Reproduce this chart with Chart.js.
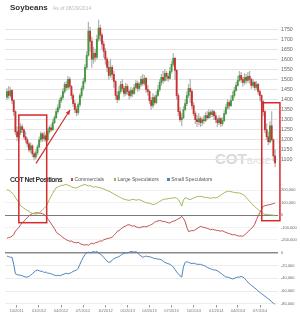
<!DOCTYPE html>
<html>
<head>
<meta charset="utf-8">
<script src="https://cdn.jsdelivr.net/npm/chart.js@4.4.1/dist/chart.umd.min.js"></script>
<style>
  html, body { margin: 0; padding: 0; background: #fff; }
  #lienzo { position: relative; width: 300px; height: 318px; overflow: hidden; font-family: "Liberation Sans", Arial, sans-serif; }
  #lienzo canvas { position: absolute; left: 0; }
  #titulo { position: absolute; left: 10px; top: 3px; line-height: 9px; font-size: 8px; font-weight: bold; color: #333; white-space: nowrap; }
  #titulo span { font-weight: normal; font-size: 5.1px; color: #bbb; margin-left: 5px; }
  #cabeceraCot { position: absolute; left: 10px; top: 173px; line-height: 8px; white-space: nowrap; }
  #cabeceraCot b { font-size: 7px; color: #333; letter-spacing: -0.55px; }
  .item { font-size: 5.1px; color: #555; vertical-align: 1px; }
  .cuadro { display: inline-block; width: 2.4px; height: 2.4px; margin-right: 1.5px; vertical-align: 0.5px; }
  #marcaAgua { position: absolute; left: 215px; top: 151px; line-height: 15px; font-size: 15px; font-weight: bold; color: #dadada; white-space: nowrap; }
  #marcaAgua span { font-size: 9px; font-weight: normal; color: #e0e0e0; }
  #marcas { pointer-events: none; top: 0; }
</style>
</head>
<body>
<div id="lienzo">
  <div id="marcaAgua">COT<span>BASE</span></div>
  <canvas id="precio" width="300" height="172" style="top:0px"></canvas>
  <canvas id="cot" width="300" height="68" style="top:180px"></canvas>
  <canvas id="pequenos" width="300" height="72" style="top:246px"></canvas>
  <div id="titulo">Soybeans<span>As of 08/29/2014</span></div>
  <div id="cabeceraCot"><b>COT Net Positions</b>
    <span class="item" style="margin-left:4px"><span class="cuadro" style="background:#c0504d"></span>Commercials</span>
    <span class="item" style="margin-left:5px"><span class="cuadro" style="background:#9bbb59"></span>Large Speculators</span>
    <span class="item" style="margin-left:4px"><span class="cuadro" style="background:#4f81bd"></span>Small Speculators</span>
  </div>
  <canvas id="marcas" width="300" height="318"></canvas>
</div>
<script>
// Velas semanales de soja (centavos/bushel), desde la semana del 22/08/2011
const apertura = [
  1410,1440,1420,1445,1395,1340,1240,1215,1235,1265,
  1250,1215,1200,1180,1150,1170,1130,1115,1135,1165,
  1200,1230,1205,1220,1200,1240,1260,1250,1285,1310,
  1340,1360,1395,1410,1440,1475,1460,1500,1465,1420,
  1380,1350,1335,1375,1420,1455,1490,1560,1620,1740,
  1690,1600,1630,1610,1700,1755,1720,1675,1640,1600,
  1560,1520,1560,1525,1490,1420,1400,1440,1475,1455,
  1430,1465,1440,1420,1445,1430,1460,1480,1455,1475,
  1500,1480,1505,1450,1440,1395,1370,1410,1385,1420,
  1450,1485,1510,1495,1530,1515,1505,1540,1575,1605,
  1545,1420,1340,1300,1310,1350,1380,1420,1455,1440,
  1370,1330,1300,1290,1305,1285,1300,1295,1320,1310,
  1335,1325,1340,1320,1300,1285,1305,1280,1295,1330,
  1360,1385,1370,1395,1420,1445,1470,1495,1520,1500,
  1485,1510,1495,1515,1500,1470,1485,1460,1475,1440,
  1420,1390,1340,1250,1215,1190,1270,1200,1120
];
const maximo = [
  1455,1465,1460,1450,1400,1345,1265,1250,1280,1275,
  1255,1240,1210,1190,1185,1175,1140,1150,1175,1215,
  1240,1235,1240,1230,1255,1270,1275,1300,1320,1355,
  1375,1405,1420,1455,1485,1490,1515,1510,1470,1430,
  1395,1365,1385,1430,1465,1505,1575,1640,1785,1760,
  1710,1660,1650,1720,1795,1770,1730,1690,1655,1610,
  1590,1600,1570,1540,1495,1440,1465,1490,1500,1465,
  1480,1475,1450,1460,1455,1475,1495,1490,1485,1515,
  1525,1520,1510,1470,1445,1410,1430,1420,1440,1470,
  1500,1525,1540,1550,1540,1530,1560,1590,1630,1610,
  1550,1430,1360,1330,1365,1400,1440,1475,1500,1450,
  1385,1340,1320,1330,1315,1310,1320,1335,1340,1350,
  1345,1350,1345,1335,1310,1320,1310,1310,1345,1375,
  1400,1395,1420,1440,1460,1485,1515,1540,1535,1510,
  1530,1525,1535,1540,1505,1500,1490,1490,1480,1450,
  1425,1395,1345,1280,1240,1290,1340,1205,1150
];
const minimo = [
  1400,1405,1410,1380,1320,1225,1195,1200,1225,1235,
  1205,1185,1165,1140,1135,1115,1100,1105,1125,1160,
  1190,1190,1195,1190,1195,1230,1240,1245,1280,1305,
  1330,1350,1385,1400,1430,1445,1450,1455,1405,1365,
  1335,1320,1325,1365,1410,1445,1480,1550,1615,1640,
  1560,1580,1590,1600,1690,1690,1650,1610,1575,1540,
  1500,1510,1500,1460,1400,1385,1395,1430,1440,1415,
  1420,1425,1400,1410,1415,1425,1450,1440,1445,1465,
  1470,1470,1435,1420,1380,1350,1360,1375,1380,1415,
  1440,1470,1480,1490,1495,1490,1500,1530,1565,1500,
  1400,1320,1290,1270,1305,1345,1370,1410,1385,1355,
  1320,1280,1265,1275,1265,1270,1280,1290,1300,1305,
  1310,1315,1300,1285,1265,1275,1265,1270,1290,1325,
  1350,1355,1365,1400,1410,1440,1465,1490,1485,1465,
  1475,1480,1485,1480,1455,1460,1445,1450,1425,1395,
  1370,1320,1235,1200,1175,1185,1195,1095,1065
];
const cierre = [
  1440,1420,1445,1395,1340,1240,1215,1235,1265,1250,
  1215,1200,1180,1150,1170,1130,1115,1135,1165,1200,
  1230,1205,1220,1200,1240,1260,1250,1285,1310,1340,
  1360,1395,1410,1440,1475,1460,1500,1465,1420,1380,
  1350,1335,1375,1420,1455,1490,1560,1620,1740,1690,
  1600,1630,1610,1700,1755,1720,1675,1640,1600,1560,
  1520,1560,1525,1490,1420,1400,1440,1475,1455,1430,
  1465,1440,1420,1445,1430,1460,1480,1455,1475,1500,
  1480,1505,1450,1440,1395,1370,1410,1385,1420,1450,
  1485,1510,1495,1530,1515,1505,1540,1575,1605,1545,
  1420,1340,1300,1310,1350,1380,1420,1455,1440,1370,
  1330,1300,1290,1305,1285,1300,1295,1320,1310,1335,
  1325,1340,1320,1300,1285,1305,1280,1295,1330,1360,
  1385,1370,1395,1420,1445,1470,1495,1520,1500,1485,
  1510,1495,1515,1500,1470,1485,1460,1475,1440,1420,
  1390,1340,1250,1215,1190,1270,1200,1120,1085
];

// Posiciones netas COT (miles de contratos)
const comerciales = [
  -187,-182,-178,-170,-158,-130,-115,-100,-78,-65,
  -50,-35,-20,-8,5,10,14,18,18,16,
  14,10,4,-8,-30,-48,-70,-88,-110,-135,
  -150,-158,-170,-182,-190,-200,-205,-212,-210,-218,
  -222,-225,-220,-230,-236,-240,-243,-238,-245,-233,
  -228,-232,-224,-222,-215,-208,-212,-200,-196,-190,
  -188,-184,-178,-165,-150,-133,-125,-115,-103,-95,
  -88,-80,-79,-84,-90,-87,-95,-100,-103,-98,
  -95,-92,-96,-90,-85,-78,-70,-58,-52,-48,
  -44,-47,-54,-52,-58,-62,-65,-55,-50,-46,
  -38,-30,-24,-11,-28,-54,-100,-133,-130,-125,
  -127,-118,-110,-100,-92,-96,-100,-103,-108,-112,
  -119,-115,-119,-122,-125,-127,-130,-127,-135,-140,
  -146,-150,-155,-160,-158,-162,-168,-170,-168,-172,
  -160,-150,-135,-120,-110,-95,-75,-38,-10,19,
  45,70,75,78,82,84,88,92,97
];
const grandesEspec = [
  205,200,190,178,165,140,120,100,75,65,
  55,45,38,28,18,14,10,8,10,15,
  30,43,55,70,95,124,150,175,200,219,
  225,232,240,238,244,246,240,235,228,222,
  219,218,225,232,238,242,246,240,235,238,
  230,225,228,226,222,219,215,210,205,198,
  192,186,178,170,162,155,148,140,132,128,
  124,120,118,122,126,124,120,122,124,118,
  112,105,100,97,95,90,84,86,92,100,
  110,118,124,130,128,132,136,134,138,140,
  135,125,100,72,120,140,135,128,124,130,
  138,142,148,150,151,148,145,140,142,138,
  135,137,140,138,142,150,160,170,180,186,
  190,192,188,185,182,180,178,178,172,165,
  158,140,125,110,95,80,68,55,43,30,
  16,10,6,4,3,2,0,-2,-2
];
const pequenosEspec = [
  -5,-6,-7,-7,-18,-33,-34,-35,-35,-36,
  -37,-38,-38,-37,-35,-33,-30,-28,-27,-28,
  -29,-29,-31,-30,-32,-32,-33,-34,-35,-36,
  -35,-36,-35,-34,-33,-32,-33,-32,-31,-29,
  -28,-27,-24,-18,-12,-7,-3,0,1,0,
  1,2,1,2,0,-2,-4,-7,-10,-13,
  -15,-14,-12,-9,-8,-7,-6,-4,-2,-1,
  0,0,1,2,2,1,2,0,-3,-5,
  -7,-6,-5,-6,-6,-7,-8,-9,-9,-10,
  -10,-11,-13,-15,-16,-17,-18,-20,-22,-26,
  -30,-33,-36,-38,-22,-15,-14,-15,-16,-17,
  -16,-17,-18,-18,-18,-19,-20,-21,-23,-24,
  -25,-26,-27,-27,-28,-30,-32,-34,-36,-38,
  -38,-39,-40,-41,-40,-39,-38,-38,-37,-38,
  -40,-43,-46,-49,-51,-53,-55,-57,-60,-62,
  -64,-66,-68,-70,-72,-74,-77,-79,-81
];

// Ejes
const trimestres = ['10/2011','01/2012','04/2012','07/2012','10/2012','01/2013','04/2013','07/2013','10/2013','01/2014','04/2014','07/2014'];
const ticksPrecio = [1100,1150,1200,1250,1300,1350,1400,1450,1500,1550,1600,1650,1700,1750];
const ticksCot = [200,100,0,-100,-200];
const ticksPequenos = [0,-20,-40,-60,-80];

// Recuadros y flecha en rojo (fechas + valores)
const marcos = [
  { desde: Date.UTC(2011, 9, 10), hasta: Date.UTC(2012, 1, 2), precio: 1323, cot: -62 },
  { desde: Date.UTC(2014, 6, 8), hasta: Date.UTC(2014, 8, 21), precio: 1384, cot: -46 }
];
const flecha = { desde: [Date.UTC(2011, 11, 20), 1083], hasta: [Date.UTC(2012, 4, 8), 1348] };

const DIA = 86400000;
const inicio = Date.UTC(2011, 7, 22);
const fechas = cierre.map((_, i) => inicio + i * 7 * DIA);
const xMin = Date.UTC(2011, 7, 14);
const xMax = Date.UTC(2014, 8, 13);
const FUENTE = '"Liberation Sans", Arial, sans-serif';

function aFecha(etiqueta) {
  const [mes, anio] = etiqueta.split('/').map(Number);
  return Date.UTC(anio, mes - 1, 1);
}

function miles(v) {
  return (v * 1000).toLocaleString('en-US');
}

function ejeX(visible) {
  return {
    type: 'linear', min: xMin, max: xMax, offset: false, display: visible,
    grid: { display: visible, drawOnChartArea: false, drawTicks: true, tickLength: 3, color: '#999', offset: false },
    border: { display: false },
    ticks: {
      autoSkip: false, maxRotation: 0, padding: 1, color: '#777',
      font: { size: 4, family: FUENTE },
      callback: (v, i) => trimestres[i]
    },
    afterBuildTicks: (s) => { s.ticks = trimestres.map(t => ({ value: aFecha(t) })); },
    afterFit: (s) => { s.paddingLeft = 0; s.paddingRight = 0; }
  };
}

function ejeY(min, max, valores, formato, colorCero, anchoCero, colorResto, tamano) {
  return {
    position: 'right', min: min, max: max,
    grid: {
      drawTicks: false,
      color: (ctx) => ctx.tick && ctx.tick.value === 0 ? colorCero : colorResto,
      lineWidth: (ctx) => ctx.tick && ctx.tick.value === 0 ? anchoCero : 1
    },
    border: { display: false },
    ticks: { padding: 3, color: '#666', font: { size: tamano, family: FUENTE }, callback: formato },
    afterBuildTicks: (s) => { s.ticks = valores.map(v => ({ value: v })); },
    afterFit: (s) => { s.width = 22; s.paddingTop = 0; s.paddingBottom = 0; }
  };
}

const opcionesBase = {
  responsive: false,
  animation: false,
  events: [],
  plugins: { legend: { display: false }, tooltip: { enabled: false }, title: { display: false } }
};

// Grafico de velas (barras flotantes: mecha + cuerpo)
const graficoPrecio = new Chart(document.getElementById('precio'), {
  type: 'bar',
  data: {
    datasets: [
      {
        data: fechas.map((t, i) => ({ x: t, y: [minimo[i], maximo[i]] })),
        backgroundColor: '#b4b4b4',
        barThickness: 0.6,
        grouped: false,
        order: 2
      },
      {
        data: fechas.map((t, i) => ({ x: t, y: [apertura[i], cierre[i]] })),
        backgroundColor: fechas.map((_, i) => cierre[i] >= apertura[i] ? '#3f9a3f' : '#cc3030'),
        barThickness: 1.2,
        minBarLength: 1,
        grouped: false,
        order: 1
      }
    ]
  },
  options: Object.assign({}, opcionesBase, {
    layout: { padding: { left: 5, right: 0, top: 19, bottom: 2 } },
    scales: {
      x: ejeX(false),
      y: ejeY(1050, 1800, ticksPrecio, (v) => String(v), '#e4e4e4', 1, '#e4e4e4', 5.3)
    }
  })
});

// Comerciales y grandes especuladores
const graficoCot = new Chart(document.getElementById('cot'), {
  type: 'line',
  data: {
    datasets: [
      { data: fechas.map((t, i) => ({ x: t, y: grandesEspec[i] })), borderColor: '#9bbb59', borderWidth: 1, pointRadius: 0, tension: 0 },
      { data: fechas.map((t, i) => ({ x: t, y: comerciales[i] })), borderColor: '#c0504d', borderWidth: 1, pointRadius: 0, tension: 0 }
    ]
  },
  options: Object.assign({}, opcionesBase, {
    layout: { padding: { left: 5, right: 0, top: 4, bottom: 2 } },
    scales: {
      x: ejeX(false),
      y: ejeY(-250, 250, ticksCot, miles, '#7a7a7a', 1, '#f2f2f2', 4)
    }
  })
});

// Pequenos especuladores
const graficoPequenos = new Chart(document.getElementById('pequenos'), {
  type: 'line',
  data: {
    datasets: [
      { data: fechas.map((t, i) => ({ x: t, y: pequenosEspec[i] })), borderColor: '#4f81bd', borderWidth: 1, pointRadius: 0, tension: 0 }
    ]
  },
  options: Object.assign({}, opcionesBase, {
    layout: { padding: { left: 5, right: 0, top: 3, bottom: 3.7 } },
    scales: {
      x: ejeX(true),
      y: ejeY(-81, 6, ticksPequenos, miles, '#8a8a8a', 1.5, '#ececec', 4)
    }
  })
});

// Recuadros y flecha dibujados sobre todos los paneles
function dibujarMarcas() {
  const c = document.getElementById('marcas').getContext('2d');
  const px = (t) => graficoPrecio.scales.x.getPixelForValue(t);
  const pyPrecio = (v) => graficoPrecio.scales.y.getPixelForValue(v) + graficoPrecio.canvas.offsetTop;
  const pyCot = (v) => graficoCot.scales.y.getPixelForValue(v) + graficoCot.canvas.offsetTop;

  c.strokeStyle = '#d42b2b';
  c.fillStyle = '#d42b2b';
  c.lineWidth = 1.5;
  marcos.forEach(m => {
    const x0 = px(m.desde), x1 = px(m.hasta);
    const y0 = pyPrecio(m.precio), y1 = pyCot(m.cot);
    c.strokeRect(x0, y0, x1 - x0, y1 - y0);
  });

  const ax = px(flecha.desde[0]), ay = pyPrecio(flecha.desde[1]);
  const bx = px(flecha.hasta[0]), by = pyPrecio(flecha.hasta[1]);
  c.lineWidth = 1.2;
  c.beginPath();
  c.moveTo(ax, ay);
  c.lineTo(bx, by);
  c.stroke();
  const ang = Math.atan2(by - ay, bx - ax);
  const largo = 5;
  c.beginPath();
  c.moveTo(bx, by);
  c.lineTo(bx - largo * Math.cos(ang - 0.45), by - largo * Math.sin(ang - 0.45));
  c.lineTo(bx - largo * Math.cos(ang + 0.45), by - largo * Math.sin(ang + 0.45));
  c.closePath();
  c.fill();
}

dibujarMarcas();
</script>
</body>
</html>
